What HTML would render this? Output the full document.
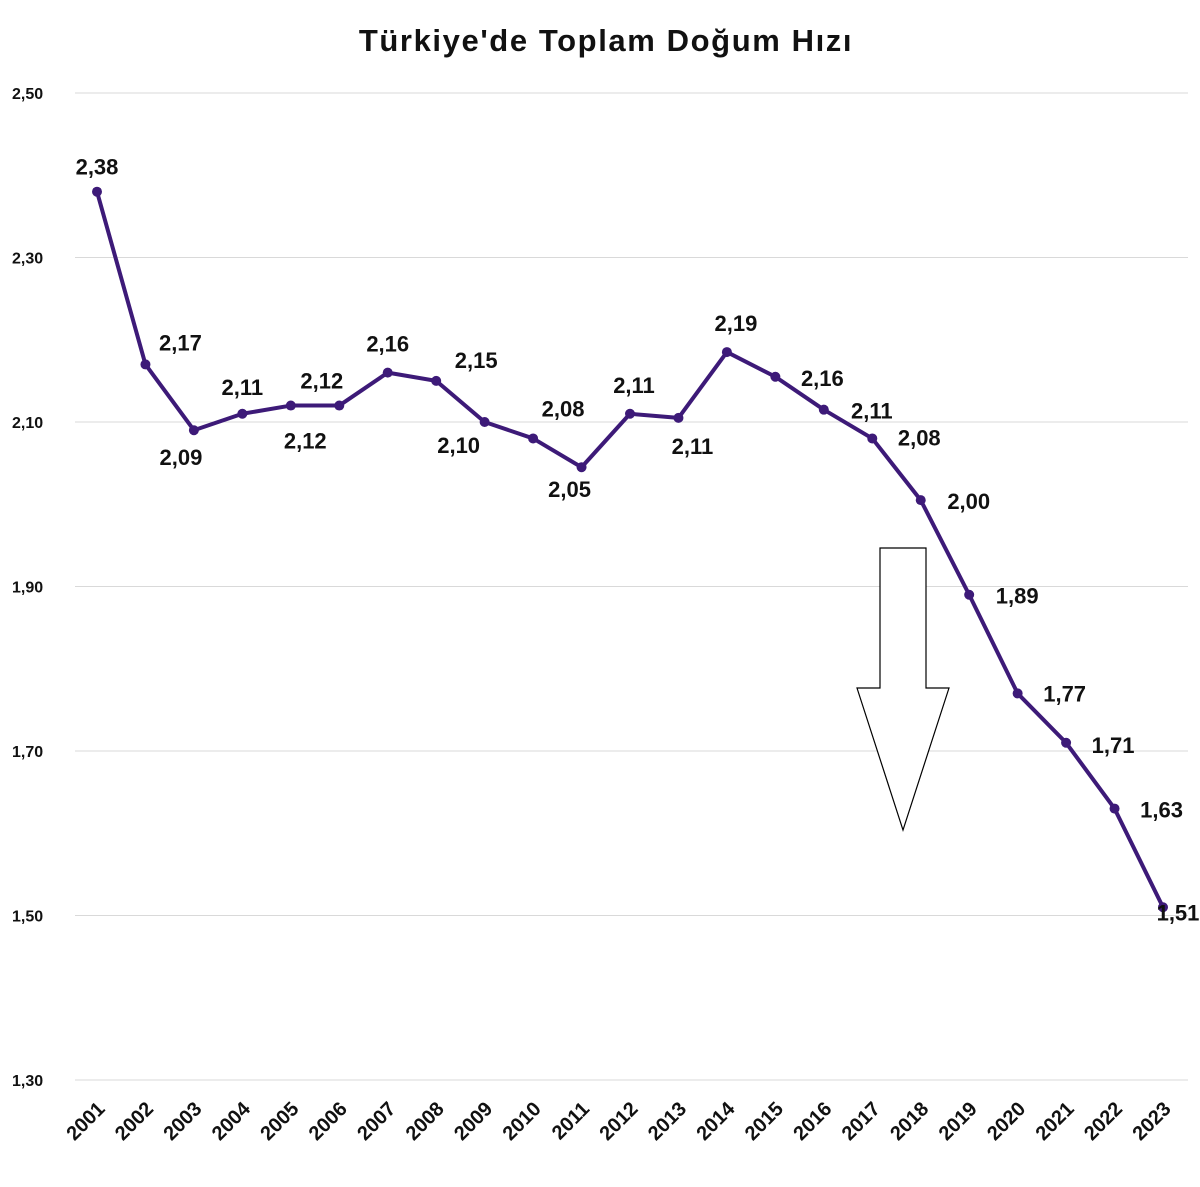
<!DOCTYPE html>
<html><head><meta charset="utf-8"><style>
body{margin:0;background:#fff;}
svg text{font-family:"Liberation Sans",sans-serif;font-weight:bold;fill:#111;}
</style></head><body>
<svg id="chart" width="1200" height="1182" xmlns="http://www.w3.org/2000/svg">
<text x="606" y="51" text-anchor="middle" font-size="31" letter-spacing="1.6">Türkiye'de Toplam Doğum Hızı</text>
<g id="grid"></g><g id="yticks"></g><g id="xticks"></g><g id="series"></g><g id="labels"></g>
<polygon points="880,548 926,548 926,688 949,688 903,830 857,688 880,688" fill="#fff" stroke="#000" stroke-width="1.2"/>
</svg>
<script>
const years=["2001","2002","2003","2004","2005","2006","2007","2008","2009","2010","2011","2012","2013","2014","2015","2016","2017","2018","2019","2020","2021","2022","2023"];
const values=[2.38,2.17,2.09,2.11,2.12,2.12,2.16,2.15,2.10,2.08,2.045,2.11,2.105,2.185,2.155,2.115,2.08,2.005,1.89,1.77,1.71,1.63,1.51];
const valueLabels=["2,38","2,17","2,09","2,11","2,12","2,12","2,16","2,15","2,10","2,08","2,05","2,11","2,11","2,19","2,16","2,11","2,08","2,00","1,89","1,77","1,71","1,63","1,51"];
const yTicks=[1.30,1.50,1.70,1.90,2.10,2.30,2.50];
const yTickLabels=["1,30","1,50","1,70","1,90","2,10","2,30","2,50"];
const labelDx=[0,35,-13,0,31,-34,0,40,-26,30,-12,4,14,9,47,48,47,48,48,47,47,47,15];
const labelDy=[-25,-22,27,-27,-25,35,-29,-21,23,-30,22,-29,28,-29,1,1,-1,1,1,0,2,1,5];
const NS="http://www.w3.org/2000/svg";
const X=i=>97+i*(1163-97)/(years.length-1);
const Y=v=>93+(2.5-v)/0.2*164.5;
function mk(tag,attrs,parent,txt){const e=document.createElementNS(NS,tag);for(const k in attrs)e.setAttribute(k,attrs[k]);if(txt!==undefined)e.textContent=txt;document.getElementById(parent).appendChild(e);return e;}
yTicks.forEach((t,i)=>{
 const l=mk('line',{x1:75,x2:1188,y1:Y(t),y2:Y(t),stroke:'#d9d9d9','stroke-width':1},'grid');
 
 
 const tx=mk('text',{x:12,y:Y(t)+6,'font-size':16,fill:'#000'},'yticks',yTickLabels[i]);
 
 
});
years.forEach((y,i)=>{
 const tx=mk('text',{x:X(i)+9,y:1110,'font-size':20,'text-anchor':'end',fill:'#000',transform:`rotate(-45 ${X(i)+9} 1110)`},'xticks',y);
 
 
});
const pl=mk('polyline',{points:values.map((v,i)=>X(i)+','+Y(v)).join(' '),fill:'none',stroke:'#3d1a78','stroke-width':4,'stroke-linejoin':'round'},'series');


values.forEach((v,i)=>{
 const c=mk('circle',{cx:X(i),cy:Y(v),r:5,fill:'#3d1a78'},'series');
 
 
 const t=mk('text',{x:X(i)+labelDx[i],y:Y(v)+labelDy[i]+8,'font-size':22,'text-anchor':'middle'},'labels',valueLabels[i]);
 
 
});
</script>
</body></html>
